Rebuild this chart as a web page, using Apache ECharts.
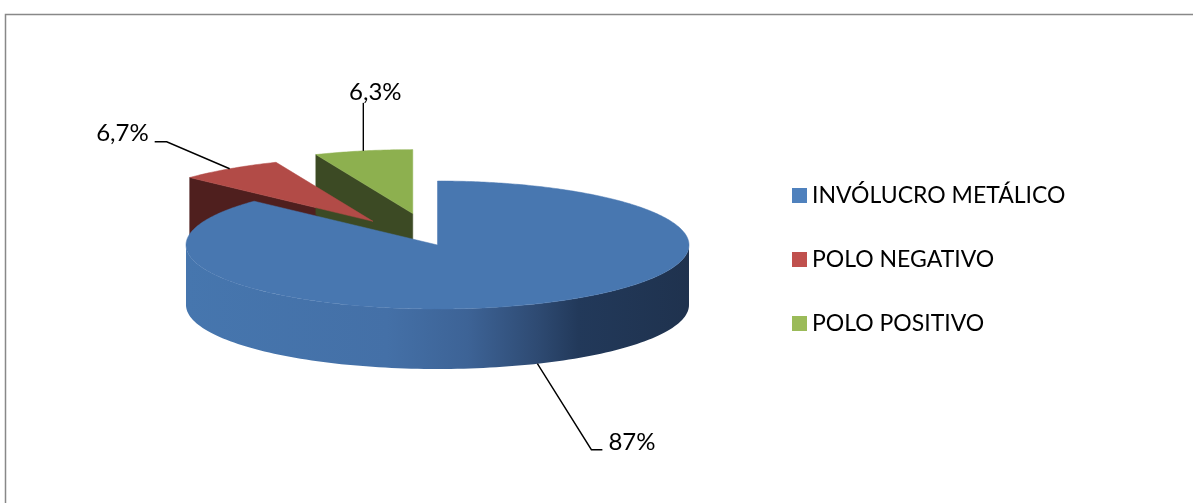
<!DOCTYPE html>
<html><head><meta charset="utf-8">
<script src="https://cdn.jsdelivr.net/npm/echarts@6/dist/echarts.min.js"></script>
<style>html,body{margin:0;padding:0;background:#fff}#c{width:1193px;height:503px}</style>
</head><body><div id="c"></div>
<script>
// ---- data ----
const categories = ['INVÓLUCRO METÁLICO', 'POLO NEGATIVO', 'POLO POSITIVO'];
const values = [87, 6.7, 6.3];
const labels = ['87%', '6,7%', '6,3%'];

// ---- styles / layout (not data) ----
const legendColors = ['#4f81bd', '#c0504d', '#9bbb59'];
const topColors = ['#4877b0', '#b24b47', '#8db04f'];
const cutColors = ['#2c4a70', '#4f1f1e', '#3c4a24'];
const explode = [0, 0.45, 0.5];
const leaderLayout = [
  { bend: [54, 86], tail: 11, align: 'left', tdx: 6, tdy: -7 },
  { bend: [-63, -27], tail: -12, align: 'right', tdx: -6, tdy: -8 },
  { bend: [0, -48], tail: 0, align: 'center', tdx: 12, tdy: -11 }
];
const FONT = 'Lato';
const FS = 24;
const LFS = 23;
const CX = 437.5, CY = 245, RX = 251.5, RY = 64, H = 60;

const total = values.reduce((a, b) => a + b, 0);
const starts = [];
{ let acc = 0; values.forEach(v => { starts.push(acc / total * 360); acc += v; }); }

function rad(d) { return d * Math.PI / 180; }
function P(cx, cy, deg, z) { return [cx + RX * Math.sin(rad(deg)), cy - RY * Math.cos(rad(deg)) + z]; }

function renderSlice(params, api) {
  const i = params.seriesIndex;
  const v = api.value(0);
  const a0 = starts[i], a1 = a0 + v / total * 360;
  const mid = (a0 + a1) / 2;
  const e = explode[i];
  const cx = CX + RX * e * Math.sin(rad(mid));
  const cy = CY - RY * e * Math.cos(rad(mid));
  const children = [];
  const cut = (a) => ({ type: 'polygon', z2: 1, shape: { points: [[cx, cy], P(cx, cy, a, 0), P(cx, cy, a, H), [cx, cy + H]] },
    style: { fill: cutColors[i], stroke: cutColors[i], lineWidth: 0.5 } });
  if (Math.sin(rad(a0)) < -1e-6) children.push(cut(a0));
  if (Math.sin(rad(a1)) > 1e-6) children.push(cut(a1));
  const s0 = Math.max(a0, 90), s1 = Math.min(a1, 270);
  if (s1 > s0) {
    const pts = [];
    const n = 120;
    for (let k = 0; k <= n; k++) pts.push(P(cx, cy, s0 + (s1 - s0) * k / n, 0));
    for (let k = n; k >= 0; k--) pts.push(P(cx, cy, s0 + (s1 - s0) * k / n, H));
    children.push({ type: 'polygon', z2: 2, shape: { points: pts },
      style: { fill: new echarts.graphic.LinearGradient(0, 0, 1, 0, [
        { offset: 0, color: '#4676ae' }, { offset: 0.4, color: '#4470a7' },
        { offset: 0.56, color: '#3d6396' }, { offset: 0.7, color: '#2e4a72' },
        { offset: 0.78, color: '#22395a' }, { offset: 1, color: '#1f324e' }]) } });
  }
  const top = [[cx, cy]];
  const m = Math.max(8, Math.round((a1 - a0) * 1.5));
  for (let k = 0; k <= m; k++) top.push(P(cx, cy, a0 + (a1 - a0) * k / m, 0));
  children.push({ type: 'polygon', z2: 3, shape: { points: top }, style: { fill: topColors[i], stroke: topColors[i], lineWidth: 0.5 } });
  const front = Math.cos(rad(mid)) < 0;
  const anc = P(cx, cy, mid, front ? H : 0);
  const L = leaderLayout[i];
  const b = [anc[0] + L.bend[0], anc[1] + L.bend[1]];
  const t = [b[0] + L.tail, b[1]];
  children.push({ type: 'polyline', z2: 4, shape: { points: [anc, b, t] }, style: { stroke: '#000', lineWidth: 1.4, fill: null } });
  children.push({ type: 'text', z2: 5, style: { text: labels[i], x: t[0] + L.tdx, y: t[1] + L.tdy,
    font: FS + 'px ' + FONT, fill: '#000', align: L.align, verticalAlign: 'middle' } });
  return { type: 'group', children };
}

const chart = echarts.init(document.getElementById('c'), null, { renderer: 'canvas' });
chart.setOption({
  animation: false,
  backgroundColor: '#fff',
  graphic: [{ type: 'rect', left: 3, top: 12, shape: { width: 1300, height: 600 }, silent: true,
    style: { fill: null, stroke: '#888', lineWidth: 1.5 } }],
  legend: {
    orient: 'vertical', left: 792, top: 183, padding: 0, itemWidth: 15, itemHeight: 15, itemGap: 39, icon: 'rect',
    selectedMode: false, data: categories,
    textStyle: { fontFamily: FONT, fontSize: LFS, lineHeight: 25, color: '#000' }
  },
  series: categories.map((name, i) => ({
    type: 'custom', name, coordinateSystem: 'none', z: i === 0 ? 3 : 2,
    itemStyle: { color: legendColors[i] },
    renderItem: renderSlice,
    data: [[values[i]]]
  }))
});
</script></body></html>
